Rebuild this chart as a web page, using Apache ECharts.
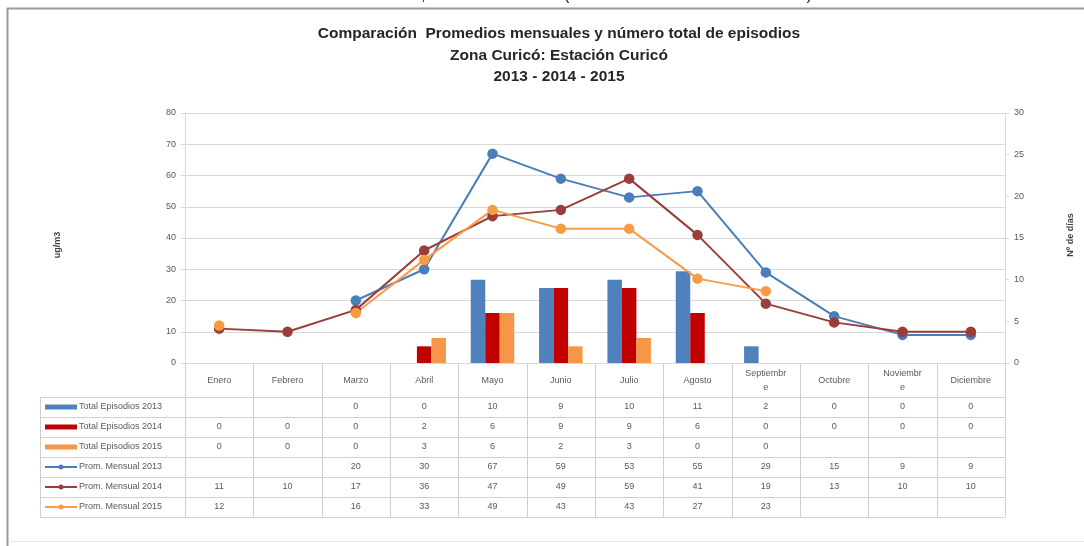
<!DOCTYPE html>
<html>
<head>
<meta charset="utf-8">
<script src="https://cdn.jsdelivr.net/npm/echarts@6/dist/echarts.min.js"></script>
<style>
  html, body { margin: 0; padding: 0; background: #ffffff; }
  #chart { width: 1084px; height: 546px; }
</style>
</head>
<body>
<div id="chart"></div>
<script>
// Months, as printed in the header row of the data table
const months = ['Enero', 'Febrero', 'Marzo', 'Abril', 'Mayo', 'Junio', 'Julio', 'Agosto',
  'Septiembre', 'Octubre', 'Noviembre', 'Diciembre'];
const monthHeaders = ['Enero', 'Febrero', 'Marzo', 'Abril', 'Mayo', 'Junio', 'Julio', 'Agosto',
  'Septiembr\ne', 'Octubre', 'Noviembr\ne', 'Diciembre'];

// Total de episodios por mes (días)
const episodes2013 = [null, null, 0, 0, 10, 9, 10, 11, 2, 0, 0, 0];
const episodes2014 = [0, 0, 0, 2, 6, 9, 9, 6, 0, 0, 0, 0];
const episodes2015 = [0, 0, 0, 3, 6, 2, 3, 0, 0, null, null, null];

// Promedio mensual (ug/m3)
const mean2013 = [null, null, 20, 30, 67, 59, 53, 55, 29, 15, 9, 9];
const mean2014 = [11, 10, 17, 36, 47, 49, 59, 41, 19, 13, 10, 10];
const mean2015 = [12, null, 16, 33, 49, 43, 43, 27, 23, null, null, null];

// Axis scales
const leftAxisTicks = { min: 0, max: 80, interval: 10 };
const rightAxisTicks = { min: 0, max: 30, interval: 5 };

const titleLines = [
  'Comparación  Promedios mensuales y número total de episodios',
  'Zona Curicó: Estación Curicó',
  '2013 - 2014 - 2015'
];

const FONT = '"Liberation Sans", Arial, sans-serif';
const TEXT_GREY = '#595959';
const GRID_GREY = '#d9d9d9';

const colors = {
  bar2013: '#4f81bd', bar2014: '#c00000', bar2015: '#f79646',
  line2013: '#4a7ebb', line2014: '#9b3d3b', line2015: '#f99a45'
};

const barSeries = [
  { name: 'Total Episodios 2013', data: episodes2013, color: colors.bar2013 },
  { name: 'Total Episodios 2014', data: episodes2014, color: colors.bar2014 },
  { name: 'Total Episodios 2015', data: episodes2015, color: colors.bar2015 }
];
const lineSeries = [
  { name: 'Prom. Mensual 2013', data: mean2013, color: colors.line2013 },
  { name: 'Prom. Mensual 2014', data: mean2014, color: colors.line2014 },
  { name: 'Prom. Mensual 2015', data: mean2015, color: colors.line2015 }
];

const chart = echarts.init(document.getElementById('chart'), null, { renderer: 'canvas' });

const series = [];
barSeries.forEach(function (s) {
  series.push({
    type: 'bar', name: s.name, yAxisIndex: 1, data: s.data,
    barWidth: 14.5, barGap: '0%',
    itemStyle: { color: s.color },
    silent: true
  });
});
lineSeries.forEach(function (s) {
  series.push({
    type: 'line', name: s.name, yAxisIndex: 0, data: s.data,
    symbol: 'circle', symbolSize: 10.5, connectNulls: false,
    lineStyle: { color: s.color, width: 2 },
    itemStyle: { color: s.color },
    silent: true
  });
});

chart.setOption({
  animation: false,
  backgroundColor: '#ffffff',
  title: {
    text: titleLines.join('\n'),
    left: 554, top: 18, textAlign: 'center',
    textStyle: { fontFamily: FONT, fontSize: 15.5, fontWeight: 'bold', color: '#262626', lineHeight: 21.5 }
  },
  grid: { left: 185, right: 79, top: 113, bottom: 183, containLabel: false },
  xAxis: {
    type: 'category', data: months, boundaryGap: true,
    axisLine: { show: true, lineStyle: { color: GRID_GREY } },
    axisTick: { show: false },
    axisLabel: { show: false }
  },
  yAxis: [
    {
      type: 'value', min: leftAxisTicks.min, max: leftAxisTicks.max, interval: leftAxisTicks.interval,
      axisLine: { show: true, lineStyle: { color: GRID_GREY } },
      axisTick: { show: true, length: 4, lineStyle: { color: GRID_GREY } },
      axisLabel: { fontFamily: FONT, fontSize: 9, color: TEXT_GREY, margin: 9 },
      splitLine: { show: true, lineStyle: { color: GRID_GREY, width: 1 } }
    },
    {
      type: 'value', min: rightAxisTicks.min, max: rightAxisTicks.max, interval: rightAxisTicks.interval,
      position: 'right',
      axisLine: { show: true, lineStyle: { color: GRID_GREY } },
      axisTick: { show: true, length: 4, lineStyle: { color: GRID_GREY } },
      axisLabel: { fontFamily: FONT, fontSize: 9, color: TEXT_GREY, margin: 9 },
      splitLine: { show: false }
    }
  ],
  series: series
});

// Data table beneath the plot, aligned with the category bands
function buildTable() {
  const c0 = chart.convertToPixel({ xAxisIndex: 0 }, 0);
  const c1 = chart.convertToPixel({ xAxisIndex: 0 }, 1);
  const bw = c1 - c0;
  const plotLeft = c0 - bw / 2;
  const plotRight = plotLeft + bw * months.length;
  const yBase = chart.convertToPixel({ yAxisIndex: 0 }, 0);
  const headerH = 34;
  const rowH = 20;
  const legendLeft = 40;
  const rows = barSeries.concat(lineSeries);
  const tableTop = yBase + headerH;
  const tableBottom = tableTop + rowH * rows.length;
  const lineStyle = { stroke: '#d0d0d0', lineWidth: 1 };
  const els = [];

  function hline(x1, x2, y) {
    els.push({ type: 'line', silent: true, shape: { x1: x1, y1: y, x2: x2, y2: y }, style: lineStyle });
  }
  function vline(x, y1, y2) {
    els.push({ type: 'line', silent: true, shape: { x1: x, y1: y1, x2: x, y2: y2 }, style: lineStyle });
  }
  function text(str, x, y, align, size, weight, color) {
    els.push({
      type: 'text', silent: true,
      style: {
        text: str, x: x, y: y, textAlign: align || 'center', textVerticalAlign: 'middle',
        font: (weight || 'normal') + ' ' + (size || 9) + 'px ' + FONT,
        fill: color || TEXT_GREY, lineHeight: 14
      }
    });
  }

  // Grid of the table
  for (let r = 0; r <= rows.length; r++) {
    hline(legendLeft, plotRight, Math.round(tableTop + r * rowH) + 0.5);
  }
  vline(legendLeft + 0.5, tableTop, tableBottom);
  for (let i = 0; i <= months.length; i++) {
    vline(Math.round(plotLeft + i * bw) + 0.5, yBase, tableBottom);
  }

  // Header row
  monthHeaders.forEach(function (m, i) {
    text(m, plotLeft + (i + 0.5) * bw, yBase + headerH / 2 + 1, 'center', 9);
  });

  // Legend keys and values
  rows.forEach(function (s, r) {
    const cy = tableTop + (r + 0.5) * rowH;
    if (r < barSeries.length) {
      els.push({ type: 'rect', silent: true, shape: { x: 45, y: cy - 2.5, width: 32, height: 5 }, style: { fill: s.color } });
    } else {
      els.push({ type: 'line', silent: true, shape: { x1: 45, y1: cy, x2: 77, y2: cy }, style: { stroke: s.color, lineWidth: 2 } });
      els.push({ type: 'circle', silent: true, shape: { cx: 61, cy: cy, r: 2.5 }, style: { fill: s.color } });
    }
    text(s.name, 79, cy, 'left', 9);
    s.data.forEach(function (v, i) {
      if (v !== null && v !== undefined) {
        text(String(v), plotLeft + (i + 0.5) * bw, cy, 'center', 9);
      }
    });
  });

  // Axis titles
  els.push({
    type: 'text', silent: true, x: 58, y: 245, rotation: Math.PI / 2,
    style: { text: 'ug/m3', x: 0, y: 0, textAlign: 'center', textVerticalAlign: 'middle',
      font: 'bold 9px ' + FONT, fill: '#404040' }
  });
  els.push({
    type: 'text', silent: true, x: 1071, y: 235, rotation: Math.PI / 2,
    style: { text: 'Nº de días', x: 0, y: 0, textAlign: 'center', textVerticalAlign: 'middle',
      font: 'bold 9px ' + FONT, fill: '#404040' }
  });

  // Heading above the chart frame (only its lower edge is in view)
  els.push({
    type: 'text', silent: true,
    style: {
      text: 'Concentración MP2,5 Estación Curicó (Promedio mensual 2013 - 2015)',
      x: 542, y: 4, textAlign: 'center', textVerticalAlign: 'bottom',
      font: '17px ' + FONT, fill: '#202020'
    }
  });

  // Chart frame
  els.push({ type: 'line', silent: true, shape: { x1: 7, y1: 8.5, x2: 1084, y2: 8.5 }, style: { stroke: '#9a9a9a', lineWidth: 2 } });
  els.push({ type: 'line', silent: true, shape: { x1: 7.5, y1: 8, x2: 7.5, y2: 546 }, style: { stroke: '#9a9a9a', lineWidth: 2 } });
  els.push({ type: 'line', silent: true, shape: { x1: 8, y1: 541.5, x2: 1084, y2: 541.5 }, style: { stroke: '#e8e8e8', lineWidth: 1 } });

  chart.setOption({ graphic: { elements: els } });
}

buildTable();
</script>
</body>
</html>
